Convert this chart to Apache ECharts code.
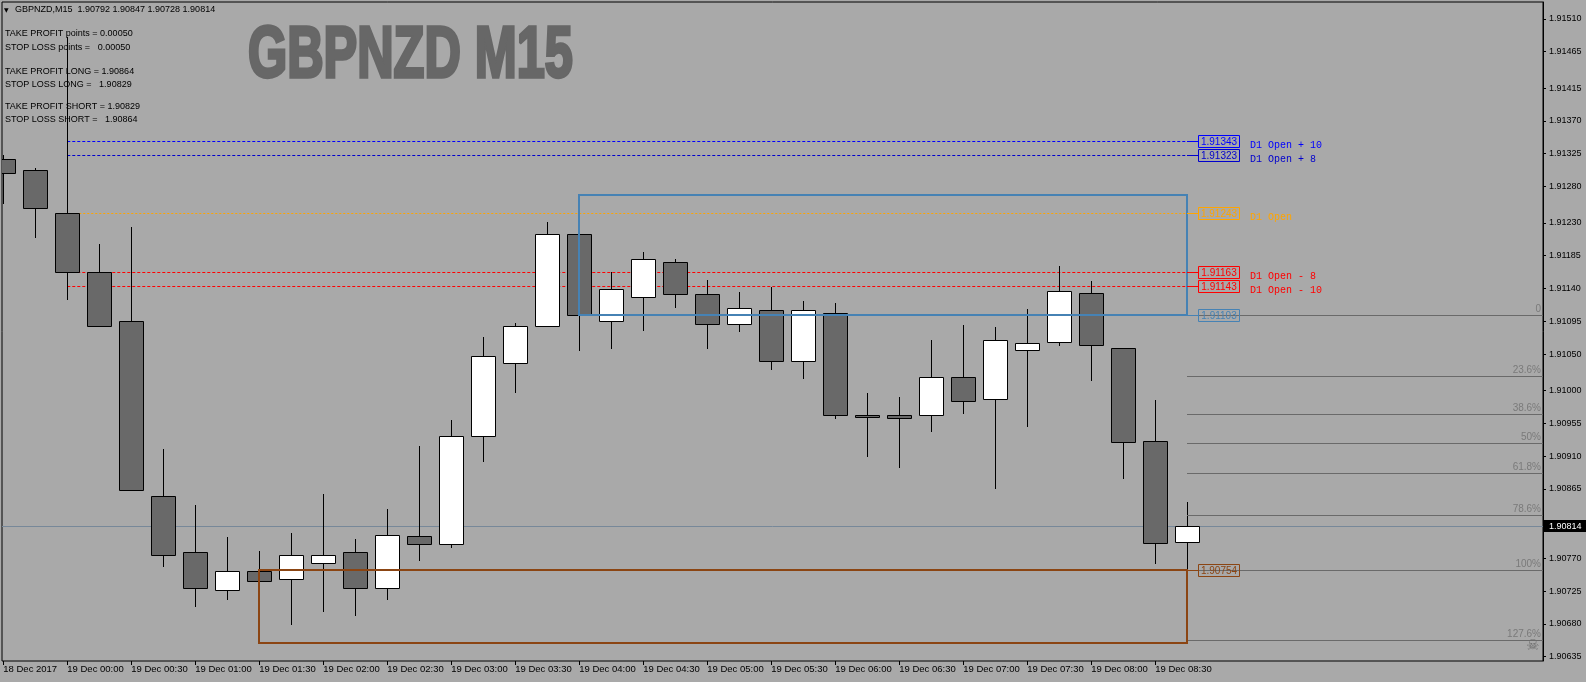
<!DOCTYPE html>
<html><head><meta charset="utf-8">
<script src="https://cdn.jsdelivr.net/npm/echarts@6/dist/echarts.min.js"></script>
<style>html,body{margin:0;padding:0;background:#A9A9A9;}#c{width:1586px;height:682px;}</style>
</head><body><div id="c"></div>
<script>
// ---- data ----
const times = ['18 Dec 23:30','18 Dec 23:45','19 Dec 00:00','19 Dec 00:15','19 Dec 00:30','19 Dec 00:45','19 Dec 01:00','19 Dec 01:15','19 Dec 01:30','19 Dec 01:45','19 Dec 02:00','19 Dec 02:15','19 Dec 02:30','19 Dec 02:45','19 Dec 03:00','19 Dec 03:15','19 Dec 03:30','19 Dec 03:45','19 Dec 04:00','19 Dec 04:15','19 Dec 04:30','19 Dec 04:45','19 Dec 05:00','19 Dec 05:15','19 Dec 05:30','19 Dec 05:45','19 Dec 06:00','19 Dec 06:15','19 Dec 06:30','19 Dec 06:45','19 Dec 07:00','19 Dec 07:15','19 Dec 07:30','19 Dec 07:45','19 Dec 08:00','19 Dec 08:15','19 Dec 08:30','19 Dec 08:45'];
const opens  = [1.91318,1.91303,1.91243,1.91163,1.91095,1.90855,1.90779,1.90727,1.90753,1.90741,1.90763,1.90778,1.90729,1.90801,1.90789,1.90937,1.91038,1.91089,1.91215,1.91095,1.91129,1.91176,1.91132,1.91091,1.91110,1.91041,1.91107,1.90967,1.90967,1.90966,1.91018,1.90988,1.91056,1.91067,1.91134,1.91059,1.90931,1.90792];
const highs  = [1.91323,1.91305,1.91485,1.91201,1.91225,1.90920,1.90843,1.90799,1.90780,1.90804,1.90858,1.90796,1.90837,1.90924,1.90959,1.91073,1.91092,1.91231,1.91216,1.91162,1.91190,1.91180,1.91151,1.91135,1.91142,1.91123,1.91120,1.90996,1.90991,1.91070,1.91090,1.91087,1.91112,1.91171,1.91150,1.91059,1.90987,1.90847];
const lows   = [1.91257,1.91211,1.91126,1.91089,1.90863,1.90760,1.90705,1.90714,1.90737,1.90680,1.90698,1.90692,1.90714,1.90767,1.90786,1.90904,1.90998,1.91089,1.91055,1.91059,1.91083,1.91115,1.91059,1.91082,1.91030,1.91017,1.90963,1.90910,1.90895,1.90945,1.90969,1.90866,1.90952,1.91063,1.91015,1.90880,1.90764,1.90728];
const closes = [1.91298,1.91250,1.91163,1.91089,1.90863,1.90774,1.90729,1.90753,1.90739,1.90775,1.90775,1.90729,1.90802,1.90790,1.90937,1.91048,1.91089,1.91215,1.91103,1.91139,1.91180,1.91132,1.91091,1.91113,1.91041,1.91110,1.90967,1.90964,1.90963,1.91018,1.90986,1.91070,1.91065,1.91136,1.91063,1.90930,1.90791,1.90814];

const xTickIndex = [0,2,4,6,8,10,12,14,16,18,20,22,24,26,28,30,32,34,36];
const xTickLabels = ['18 Dec 2017','19 Dec 00:00','19 Dec 00:30','19 Dec 01:00','19 Dec 01:30','19 Dec 02:00','19 Dec 02:30','19 Dec 03:00','19 Dec 03:30','19 Dec 04:00','19 Dec 04:30','19 Dec 05:00','19 Dec 05:30','19 Dec 06:00','19 Dec 06:30','19 Dec 07:00','19 Dec 07:30','19 Dec 08:00','19 Dec 08:30'];
const yTicks = [1.91510,1.91465,1.91415,1.91370,1.91325,1.91280,1.91230,1.91185,1.91140,1.91095,1.91050,1.91000,1.90955,1.90910,1.90865,1.90770,1.90725,1.90680,1.90635];

const d1Prices = [1.91343,1.91323,1.91243,1.91163,1.91143];
const d1Names  = ['D1 Open + 10','D1 Open + 8','D1 Open','D1 Open - 8','D1 Open - 10'];
const d1StartIndex = 2;
const lastIndex = 37;

const upperZone = [18, 37, 1.91268, 1.91103];   // fromIdx, toIdx, top, bottom
const lowerZone = [8, 37, 1.90754, 1.90654];

const fib0 = 1.91103, fib100 = 1.90754;
const fibPercents = [0, 23.6, 38.6, 50, 61.8, 78.6, 100, 127.6];
const fibLabels = ['0','23.6%','38.6%','50%','61.8%','78.6%','100%','127.6%'];

const currentPrice = 1.90814;
const headerText = 'GBPNZD,M15  1.90792 1.90847 1.90728 1.90814';
const infoLines = ['TAKE PROFIT points = 0.00050','STOP LOSS points =   0.00050','','TAKE PROFIT LONG = 1.90864','STOP LOSS LONG =   1.90829','','TAKE PROFIT SHORT = 1.90829','STOP LOSS SHORT =   1.90864'];

// ---- styles ----
const d1Colors = ['#0000FF','#0000CD','#FFA500','#FF0000','#FF0000'];
const d1Dash = [[3,2],[3,2],[2,2],[3,2],[3,2]];
const FONT = '"Liberation Sans", Arial, sans-serif';

const candleData = opens.map((o,i)=>[i,o,closes[i],lows[i],highs[i]]);

function renderCandle(params, api){
  const i = api.value(0), o = api.value(1), c = api.value(2), l = api.value(3), h = api.value(4);
  const pO = api.coord([i,o]), pC = api.coord([i,c]), pL = api.coord([i,l]), pH = api.coord([i,h]);
  const x = Math.round(pO[0]) + 0.5;
  const top = Math.round(Math.min(pO[1],pC[1])) + 0.5;
  let bot = Math.round(Math.max(pO[1],pC[1])) + 0.5;
  if (bot - top < 2) bot = top + 2;
  const bull = c > o;
  return {type:'group', children:[
    {type:'line', shape:{x1:x,y1:Math.round(pH[1]),x2:x,y2:Math.round(pL[1])+1}, style:{stroke:'#000',lineWidth:1}},
    {type:'rect', shape:{x:x-12,y:top,width:24,height:bot-top}, style:{fill: bull?'#FFFFFF':'#696969', stroke:'#000', lineWidth:1}}
  ]};
}

function snap(v){ return Math.round(v)+0.5; }

function renderBack(params, api){
  const cs = params.coordSys;
  const ch = [];
  const xs = api.coord([d1StartIndex, d1Prices[0]])[0];
  const xe = api.coord([lastIndex, d1Prices[0]])[0];
  const yc = snap(api.coord([0, currentPrice])[1]);
  ch.push({type:'line', shape:{x1:cs.x, y1:yc, x2:cs.x+cs.width, y2:yc}, style:{stroke:'#778899', lineWidth:1}});
  d1Prices.forEach((p,k)=>{
    const y = snap(api.coord([0,p])[1]);
    ch.push({type:'line', shape:{x1:xs, y1:y, x2:xe, y2:y}, style:{stroke:d1Colors[k], lineWidth:1, lineDash:d1Dash[k]}});
  });
  return {type:'group', children:ch};
}

function renderFront(params, api){
  const cs = params.coordSys;
  const right = cs.x + cs.width;
  const ch = [];
  const xe = Math.round(api.coord([lastIndex, fib0])[0]);
  fibPercents.forEach((pct,k)=>{
    const price = fib0 - pct/100*(fib0-fib100);
    const y = snap(api.coord([lastIndex, price])[1]);
    ch.push({type:'line', shape:{x1:xe, y1:y, x2:right, y2:y}, style:{stroke:'#6A6A6A', lineWidth:1}});
    ch.push({type:'text', x:right-2, y:y-1, style:{text:fibLabels[k], fill:'#7A7A7A', font:'10px '+FONT, align:'right', verticalAlign:'bottom'}});
  });
  [[upperZone,'#4682B4'],[lowerZone,'#8B4513']].forEach(([z,col])=>{
    const p1 = api.coord([z[0], z[2]]), p2 = api.coord([z[1], z[3]]);
    ch.push({type:'rect', shape:{x:Math.round(p1[0]), y:Math.round(p1[1]), width:Math.round(p2[0])-Math.round(p1[0]), height:Math.round(p2[1])-Math.round(p1[1])}, style:{fill:'none', stroke:col, lineWidth:2}});
  });
  const boxes = d1Prices.map((p,k)=>[p, d1Colors[k], d1Names[k]]);
  boxes.push([upperZone[3], '#4682B4', '']);
  boxes.push([lowerZone[2], '#8B4513', '']);
  boxes.forEach(([p,col,name])=>{
    const y = snap(api.coord([lastIndex,p])[1]);
    ch.push({type:'line', shape:{x1:xe, y1:y, x2:xe+11, y2:y}, style:{stroke:col, lineWidth:1}});
    ch.push({type:'rect', shape:{x:xe+11.5, y:y-6, width:41, height:12}, style:{fill:'none', stroke:col, lineWidth:1}});
    ch.push({type:'text', x:xe+32, y:y+0.5, style:{text:p.toFixed(5), fill:col, font:'10px '+FONT, align:'center', verticalAlign:'middle'}});
    if (name) ch.push({type:'text', x:xe+63, y:y+3.5, style:{text:name, fill:col, font:'10px "Liberation Mono", "DejaVu Sans Mono", monospace', align:'left', verticalAlign:'middle'}});
  });
  return {type:'group', children:ch};
}

function renderTag(params, api){
  const cs = params.coordSys;
  const right = cs.x + cs.width;
  const y = api.coord([0, currentPrice])[1];
  return {type:'group', children:[
    {type:'rect', shape:{x:right+1, y:Math.round(y)-6, width:45, height:12}, style:{fill:'#000'}},
    {type:'text', x:right+6, y:Math.round(y)+0.5, style:{text:currentPrice.toFixed(5), fill:'#FFFFFF', font:'9px '+FONT, align:'left', verticalAlign:'middle'}}
  ]};
}

const chart = echarts.init(document.getElementById('c'), null, {renderer:'canvas'});
const graphics = [
  {type:'text', x:4, y:10, style:{text:'\u25BC', fill:'#000', font:'6px "DejaVu Sans"', verticalAlign:'middle'}},
  {type:'text', x:15, y:10, style:{text:headerText, fill:'#000', font:'9px '+FONT, verticalAlign:'middle'}},
  {type:'text', x:248, y:57.5, scaleX:0.7, style:{text:'GBPNZD M15', fill:'#676767', stroke:'#676767', lineWidth:3.5, font:'bold 72px '+FONT, verticalAlign:'middle'}},
  {type:'text', x:1526, y:646, style:{text:'\u2620', fill:'#6E6E6E', font:'15px "DejaVu Sans"', verticalAlign:'middle'}}
];
const infoY = [34, 48, 0, 71.5, 84.5, 0, 107, 120];
infoLines.forEach((t,k)=>{ if(t) graphics.push({type:'text', x:5, y:infoY[k], style:{text:t, fill:'#000', font:'9px '+FONT, verticalAlign:'middle'}}); });

chart.setOption({
  animation:false,
  backgroundColor:'#A9A9A9',
  grid:{left:2, top:2, right:43, bottom:21, show:true, borderColor:'#000', borderWidth:1, backgroundColor:'transparent', containLabel:false},
  xAxis:{type:'value', min:-0.04, max:48.12, position:'bottom',
    axisLine:{show:false, onZero:false}, splitLine:{show:false},
    axisTick:{show:true, customValues:xTickIndex, length:4, lineStyle:{color:'#000'}},
    axisLabel:{show:true, customValues:xTickIndex, color:'#000', fontFamily:FONT, fontSize:9.5, align:'left', margin:3,
      formatter:(v)=>xTickLabels[xTickIndex.indexOf(Math.round(v))] || ''}},
  yAxis:{type:'value', min:1.90629, max:1.91533, position:'right',
    axisLine:{show:true, onZero:false, lineStyle:{color:'#000'}}, splitLine:{show:false},
    axisTick:{show:true, customValues:yTicks, length:3, lineStyle:{color:'#000'}},
    axisLabel:{show:true, customValues:yTicks, color:'#000', fontFamily:FONT, fontSize:9, margin:6,
      formatter:(v)=>v.toFixed(5)}},
  graphic:graphics,
  series:[
    {type:'custom', name:'levels', renderItem:renderBack, data:[[0]], clip:true, z:1, silent:true},
    {type:'custom', name:'GBPNZD', renderItem:renderCandle, data:candleData, clip:true, z:2, encode:{x:0, y:[1,2,3,4]}, silent:true},
    {type:'custom', name:'overlays', renderItem:renderFront, data:[[0]], clip:true, z:3, silent:true},
    {type:'custom', name:'tag', renderItem:renderTag, data:[[0]], clip:false, z:4, silent:true}
  ]
});
</script>
</body></html>
